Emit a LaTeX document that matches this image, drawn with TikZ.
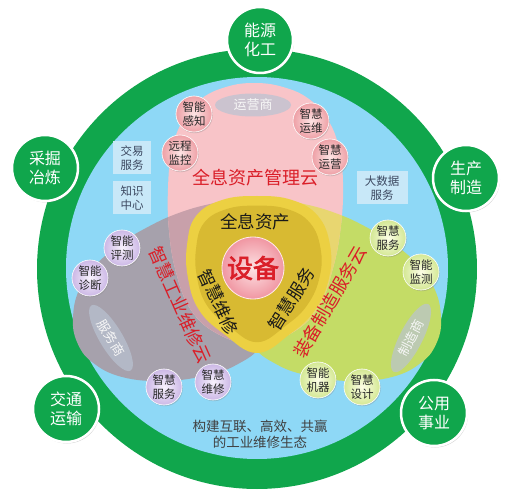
\documentclass[tikz,border=0pt]{standalone}
\usepackage{fontspec}
\setmainfont{Noto Sans CJK SC}[AutoFakeBold=2.5]
\usetikzlibrary{shadows,shapes.geometric}
\definecolor{ringgreen}{RGB}{16,166,76}
\definecolor{skyblue}{RGB}{142,216,246}
\definecolor{cloudpink}{RGB}{248,196,200}
\definecolor{cloudgray}{RGB}{166,161,172}
\definecolor{cloudgreen}{RGB}{196,220,102}
\definecolor{pinkgray}{RGB}{200,160,170}
\definecolor{pinkgreen}{RGB}{232,214,112}
\definecolor{graygreen}{RGB}{170,170,128}
\definecolor{yellowout}{RGB}{236,208,66}
\definecolor{yellowin}{RGB}{216,186,50}
\definecolor{labelred}{RGB}{218,30,40}
\definecolor{boxblue}{RGB}{200,232,248}
\definecolor{boxtext}{RGB}{60,72,96}
\definecolor{pinkin}{RGB}{253,228,228}
\definecolor{pinkout}{RGB}{238,160,166}
\definecolor{purplein}{RGB}{248,242,253}
\definecolor{purpleout}{RGB}{204,184,230}
\definecolor{limein}{RGB}{252,253,230}
\definecolor{limeout}{RGB}{212,232,148}
\definecolor{centerin}{RGB}{253,226,228}
\definecolor{centerout}{RGB}{240,150,162}
\definecolor{rolefill}{RGB}{185,195,210}
\begin{document}
\begin{tikzpicture}[x=1pt,y=-1pt,
  outer/.style={circle, fill=ringgreen, draw=white, line width=2.5pt, minimum size=66pt,
    inner sep=0pt, text=white, align=center, font=\fontsize{16}{19}\selectfont,
    drop shadow={opacity=0.35, shadow xshift=1pt, shadow yshift=-1.5pt}},
  ball/.style={circle, minimum size=36pt, inner sep=0pt, align=center,
    font=\fontsize{11.5}{14}\selectfont, text=black!85, draw=white, line width=0.6pt,
    drop shadow={opacity=0.3, shadow xshift=0.8pt, shadow yshift=-1.2pt}},
  pinkball/.style={ball, inner color=pinkin, outer color=pinkout},
  purpleball/.style={ball, inner color=purplein, outer color=purpleout},
  limeball/.style={ball, inner color=limein, outer color=limeout},
  infobox/.style={rectangle, fill=boxblue, minimum height=33pt, inner sep=2pt, align=center,
    text=boxtext, font=\fontsize{11.5}{14}\selectfont},
  roleell/.style={ellipse, fill=rolefill, fill opacity=0.7, text opacity=1, text=white!94!gray,
    minimum width=76pt, minimum height=23pt, inner sep=0pt, font=\fontsize{13}{14}\selectfont},
  cloudlabel/.style={text=labelred, font=\fontsize{18}{20}\selectfont, inner sep=0pt},
  corelabel/.style={text=black!90, font=\fontsize{17.5}{20}\selectfont, inner sep=0pt}
]
\useasboundingbox (0,0) rectangle (515,500);

% outer ring and blue field
\fill[ringgreen] (257,269) circle[radius=220];
\fill[skyblue] (257,268) circle[radius=191];

% cloud paths
\path[save path=\pinkp] plot[smooth cycle, tension=0.7] coordinates {(254,83) (283,87) (309,99) (328,120) (339,148) (343,182) (341,225) (333,268) (318,308) (290,334) (254,344) (218,334) (191,310) (176,272) (169,230) (168,188) (172,150) (183,120) (201,99) (226,87)};
\path[save path=\grayp] plot[smooth cycle, tension=0.7] coordinates {(73,318) (79,290) (96,265) (120,244) (146,228) (176,214) (210,204) (245,199) (274,206) (290,230) (292,268) (282,308) (262,345) (238,364) (208,375) (165,381) (122,377) (92,362) (77,342)};
\path[save path=\greenp] plot[smooth cycle, tension=0.7] coordinates {(441,318) (435,290) (418,265) (394,244) (368,228) (338,214) (304,204) (269,199) (240,206) (224,230) (222,268) (232,308) (252,345) (276,364) (306,375) (349,381) (392,377) (422,362) (437,342)};

\fill[cloudgray, use path=\grayp];
\fill[cloudgreen, use path=\greenp];
\fill[cloudpink, use path=\pinkp];
\begin{scope}
  \clip[use path=\pinkp];
  \fill[pinkgray, use path=\grayp];
  \fill[pinkgreen, use path=\greenp];
\end{scope}
\begin{scope}
  \clip[use path=\grayp];
  \fill[graygreen, use path=\greenp];
\end{scope}

% yellow core
\fill[yellowout] plot[smooth cycle, tension=0.7] coordinates {(257,196) (292,200) (318,216) (330,245) (329,278) (315,310) (290,334) (257,353) (224,334) (199,310) (188,278) (187,245) (196,216) (222,200)};
\begin{scope}[shift={(257,270)}, scale=0.87, shift={(-257,-270)}]
\fill[yellowin] plot[smooth cycle, tension=0.7] coordinates {(257,196) (292,200) (318,216) (330,245) (329,278) (315,310) (290,334) (257,353) (224,334) (199,310) (188,278) (187,245) (196,216) (222,200)};
\end{scope}

% centre
\node[circle, minimum size=62pt, inner sep=0pt, inner color=centerin, outer color=centerout,
  draw=white!70!pink, line width=0.8pt, text=labelred,
  font=\fontsize{26}{28}\selectfont\bfseries] (core) at (253,268) {设备};
\node[corelabel] (holo) at (255,222) {全息资产};
\node[corelabel, rotate=-65] (maint) at (218.5,302) {智慧维修};
\node[corelabel, rotate=58] (serv) at (291.5,299) {智慧服务};

% cloud labels
\node[cloudlabel] (cloudA) at (255,178) {全息资产管理云};
\node[cloudlabel, rotate=-66] (cloudB) at (180,305) {智慧工业维修云};
\node[cloudlabel, rotate=60] (cloudC) at (330,302) {装备制造服务云};

% role ellipses
\node[roleell] (op) at (253,105) {运营商};
\node[roleell, rotate=-59] (sp) at (111,338) {服务商};
\node[roleell, rotate=63] (mf) at (411,338) {制造商};

% info boxes
\node[infobox, minimum width=38pt] (trade) at (132,158) {交易\\服务};
\node[infobox, minimum width=38pt] (know) at (132,198) {知识\\中心};
\node[infobox, minimum width=51pt] (bigdata) at (382,188) {大数据\\服务};

% balls
\node[pinkball] (p1) at (194,114) {智能\\感知};
\node[pinkball] (p2) at (180,153) {远程\\监控};
\node[pinkball] (p3) at (311,121) {智慧\\运维};
\node[pinkball] (p4) at (330,157) {智慧\\运营};
\node[purpleball] (g1) at (122,248) {智能\\评测};
\node[purpleball] (g2) at (90,278) {智能\\诊断};
\node[purpleball] (g3) at (164,387) {智慧\\服务};
\node[purpleball] (g4) at (213,382) {智慧\\维修};
\node[limeball] (l1) at (388,238) {智慧\\服务};
\node[limeball] (l2) at (421,272) {智能\\监测};
\node[limeball] (l3) at (318,380) {智能\\机器};
\node[limeball] (l4) at (362,387) {智慧\\设计};

% industries
\node[outer] (energy) at (260,40) {能源\\化工};
\node[outer] (mining) at (45,168) {采掘\\冶炼};
\node[outer] (manuf) at (466,178) {生产\\制造};
\node[outer] (traffic) at (66,409) {交通\\运输};
\node[outer] (utility) at (434,413) {公用\\事业};

% slogan
\node[align=center, text=black!75, font=\fontsize{13.5}{16}\selectfont] (slogan) at (260,434) {构建互联、高效、共赢\\的工业维修生态};
\end{tikzpicture}
\end{document}
